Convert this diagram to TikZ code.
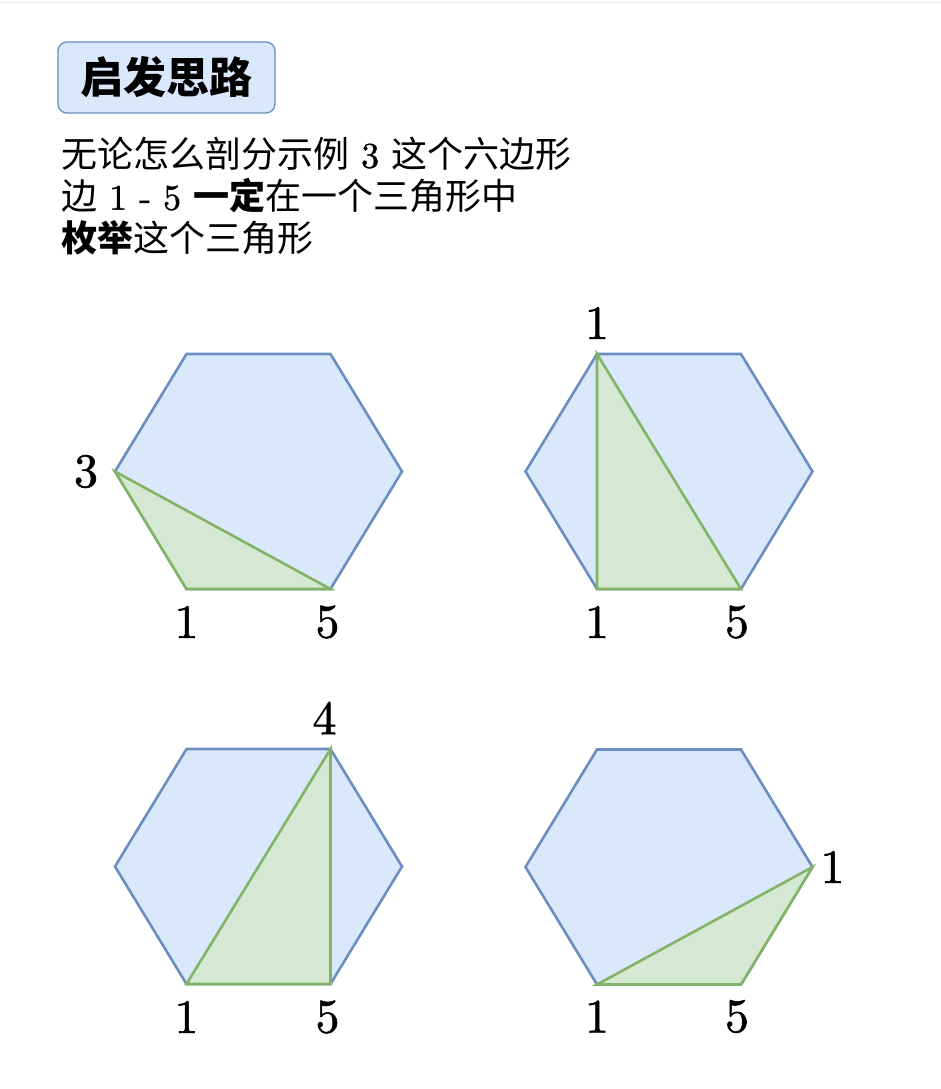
\documentclass[tikz,border=0pt]{standalone}
\usepackage{fontspec}
\newfontfamily\cjk{Noto Sans CJK SC}
\newfontfamily\numfont{lmroman10-regular.otf}[FakeBold=1.2]
\definecolor{hexfill}{HTML}{DAE8FC}
\definecolor{hexdraw}{HTML}{6C8EBF}
\definecolor{trifill}{HTML}{D5E8D4}
\definecolor{tridraw}{HTML}{82B366}
\tikzset{
  hexline/.style={draw=hexdraw,fill=hexfill,line width=2.6pt},
  triline/.style={draw=tridraw,fill=trifill,line width=2.6pt},
  num/.style={inner sep=0pt,font=\fontsize{48}{52}\selectfont\numfont},
  titlebox/.style={draw=hexdraw,fill=hexfill,rounded corners=9pt,line width=1.3pt,
    minimum width=217pt,minimum height=71pt,font=\fontsize{43}{46}\selectfont\cjk\bfseries}
}
% hexagon: name, centre
\newcommand{\hexagon}[2]{%
  \begin{scope}[shift={(#2)}]
    \coordinate (#1-l)  at (-143.5,0);
    \coordinate (#1-tl) at (-72,-117.5);
    \coordinate (#1-tr) at (72,-117.5);
    \coordinate (#1-r)  at (143.5,0);
    \coordinate (#1-br) at (72,117.5);
    \coordinate (#1-bl) at (-72,117.5);
  \end{scope}
  \draw[hexline] (#1-l) -- (#1-tl) -- (#1-tr) -- (#1-r) -- (#1-br) -- (#1-bl) -- cycle;}
\newcommand{\dg}[1]{{\numfont\ #1\ }}

\begin{document}
\begin{tikzpicture}[x=1pt,y=-1pt]
\useasboundingbox (0,0) rectangle (941,1089);
\draw[gray!15,line width=1.5pt] (0,2.5) -- (941,2.5);

\node[titlebox] (T) at (166.5,77.5) {启发思路};
\node[anchor=north west,inner sep=0pt,align=left,
  font=\fontsize{36}{42}\selectfont\cjk] (S) at (61,137)
  {无论怎么剖分示例\dg{3}这个六边形\\
   边\dg{1 - 5}{\bfseries 一定}在一个三角形中\\
   {\bfseries 枚举}这个三角形};

\hexagon{A}{258.5,471.5}
\hexagon{B}{669,471.5}
\hexagon{C}{258.5,866.5}
\hexagon{D}{669,867}

\draw[triline] (A-l) -- (A-bl) -- (A-br) -- cycle;
\draw[triline] (B-tl) -- (B-bl) -- (B-br) -- cycle;
\draw[triline] (C-tr) -- (C-bl) -- (C-br) -- cycle;
\draw[triline] (D-r) -- (D-bl) -- (D-br) -- cycle;

\path (A-l) +(-29,0) node[num] (A3) {3};
\path (A-bl) +(0,33) node[num] (A1) {1}
  (A-br) +(-3,33) node[num] (A5) {5};
\path (B-tl) +(0,-31) node[num] (B1t) {1}
  (B-bl) +(0,33) node[num] (B1) {1}
  (B-br) +(-4,33) node[num] (B5) {5};
\path (C-tr) +(-6,-31) node[num] (C4) {4}
  (C-bl) +(0,33) node[num] (C1) {1}
  (C-br) +(-3,33) node[num] (C5) {5};
\path (D-r) +(20,0) node[num] (D1r) {1}
  (D-bl) +(0,32) node[num] (D1) {1}
  (D-br) +(-4,32) node[num] (D5) {5};
\end{tikzpicture}
\end{document}
